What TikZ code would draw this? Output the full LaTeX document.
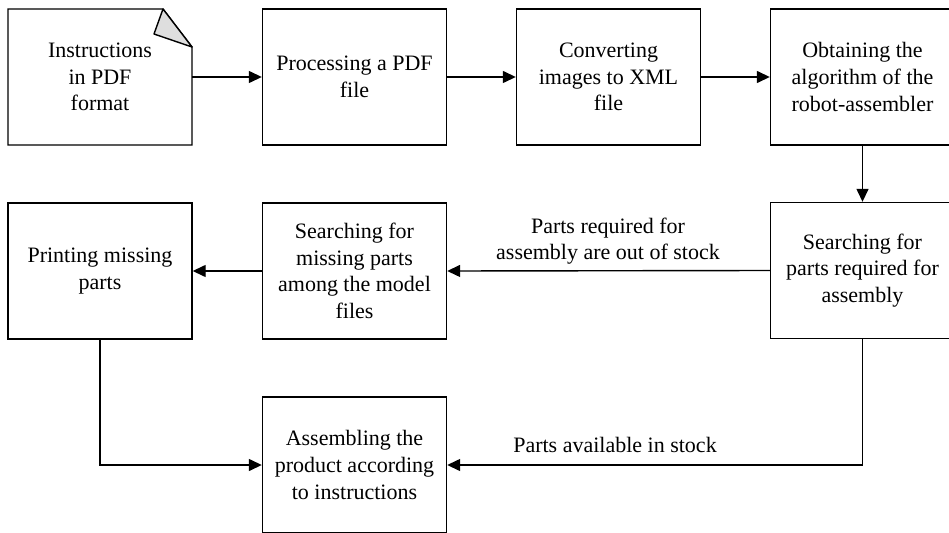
\documentclass[tikz,border=0pt]{standalone}
\usepackage{fontspec}
\setmainfont{Liberation Serif}
\usetikzlibrary{arrows.meta}
\begin{document}
\begin{tikzpicture}[x=1pt,y=-1pt,
  every node/.style={font=\fontsize{22}{26.7}\selectfont, inner sep=0pt},
  box/.style={draw, line width=1.4pt, minimum width=184pt, minimum height=136pt, align=center},
  docbox/.style={minimum width=184pt, minimum height=136pt, align=center},
  conn/.style={line width=1.4pt, -{Triangle[length=13pt,width=12pt]}},
  lbl/.style={align=center}]
\useasboundingbox (0,0) rectangle (949,532);
\clip (0,0) rectangle (949,532);
% nodes
\node[docbox] (b1) at (100,77) {Instructions\\in PDF\\format};
\draw[line width=1.4pt] (8,9) -- (163,9) -- (192,47) -- (192,145) -- (8,145) -- cycle;
\draw[line width=1.4pt, fill=black!13, line join=round] (163,9) -- (154,34) -- (192,47) -- cycle;
\node[box] (b2) at (354.5,77) {Processing a PDF\\file};
\node[box] (b3) at (608.5,77) {Converting\\images to XML\\file};
\node[box] (b4) at (862.5,77) {Obtaining the\\algorithm of the\\robot-assembler};
\node[box] (b5) at (862.5,270.5) {Searching for\\parts required for\\assembly};
\node[box] (b6) at (354.5,271) {Searching for\\missing parts\\among the model\\files};
\node[box] (b7) at (100,271) {Printing missing\\parts};
\node[box] (b8) at (354.5,465) {Assembling the\\product according\\to instructions};
% connectors
\draw[conn] (b1.east) -- (b2.west);
\draw[conn] (b2.east) -- (b3.west);
\draw[conn] (b3.east) -- (b4.west);
\draw[conn] (b4.south) -- (b5.north);
\draw[conn] (b5.west) -- (b6.east);
\draw[conn] (b6.west) -- (b7.east);
\draw[conn] (b5.south) |- (b8.east);
\draw[conn] (b7.south) |- (b8.west);
% labels
\node[lbl] (l1) at (608,241) {Parts required for\\assembly are out of stock};
\node[anchor=base] (l2) at (615,452) {Parts available in stock};
\end{tikzpicture}
\end{document}
